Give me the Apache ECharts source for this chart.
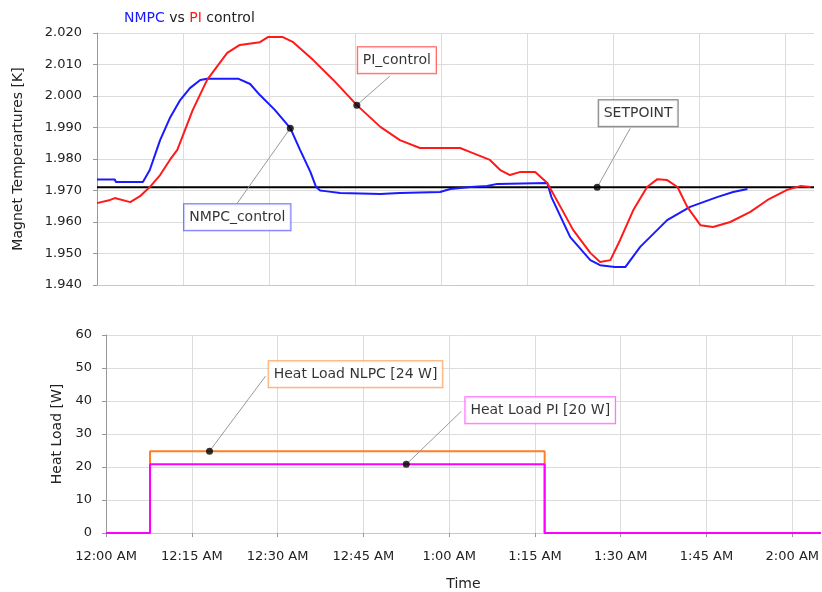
<!DOCTYPE html>
<html>
<head>
<meta charset="utf-8">
<script src="https://cdn.jsdelivr.net/npm/echarts@6/dist/echarts.min.js"></script>
<style>
  html, body { margin: 0; padding: 0; background: #fff; }
  #chart { width: 822px; height: 592px; }
</style>
</head>
<body>
<div id="chart"></div>
<script>
// x axis tick labels (every 15 minutes)
const timeLabels = ["12:00 AM", "12:15 AM", "12:30 AM", "12:45 AM", "1:00 AM", "1:15 AM", "1:30 AM", "1:45 AM", "2:00 AM"];

// top chart: magnet temperatures [K], time in minutes from 12:00 AM
const nmpcT = [0, 3.1, 3.3, 8.0, 9.2, 11.0, 12.7, 14.5, 16.2, 18.0, 19.2, 24.6, 26.7, 28.4, 31.0, 33.7, 35.4, 37.2, 38.2, 38.9, 39.8, 42.4, 49.4, 52.8, 59.8, 61.6, 65.1, 68.0, 69.8, 78.5, 79.2, 82.5, 86.0, 87.7, 90.3, 92.1, 94.7, 99.4, 103.4, 108.1, 110.9, 113.4];
const nmpcV = [1.9735, 1.9735, 1.9727, 1.9727, 1.9765, 1.9860, 1.9930, 1.9987, 2.0025, 2.0051, 2.0055, 2.0055, 2.0038, 2.0003, 1.9956, 1.9898, 1.9829, 1.9759, 1.9711, 1.9700, 1.9698, 1.9692, 1.9689, 1.9692, 1.9695, 1.9705, 1.9711, 1.9714, 1.9721, 1.9724, 1.9680, 1.9552, 1.9479, 1.9463, 1.9457, 1.9457, 1.9521, 1.9606, 1.9648, 1.9679, 1.9695, 1.9705];

const piT = [0, 2.3, 3.1, 5.8, 7.5, 9.2, 11.0, 12.7, 14.0, 16.7, 19.2, 22.7, 24.9, 28.4, 29.8, 32.4, 34.2, 37.7, 41.2, 45.3, 49.4, 52.8, 56.3, 63.3, 65.1, 68.5, 70.3, 72.0, 73.8, 76.4, 78.5, 80.8, 83.0, 86.0, 87.7, 89.5, 91.2, 93.5, 95.9, 97.7, 99.4, 101.2, 102.9, 105.2, 107.4, 110.4, 113.9, 116.9, 120.3, 122.6, 124.4];
const piV = [1.9660, 1.9670, 1.9676, 1.9663, 1.9682, 1.9711, 1.9749, 1.9797, 1.9829, 1.9956, 2.0051, 2.0137, 2.0162, 2.0171, 2.0187, 2.0187, 2.0171, 2.0114, 2.0051, 1.9971, 1.9902, 1.9860, 1.9835, 1.9835, 1.9822, 1.9797, 1.9765, 1.9749, 1.9759, 1.9759, 1.9724, 1.9648, 1.9575, 1.9502, 1.9473, 1.9479, 1.9543, 1.9638, 1.9711, 1.9736, 1.9733, 1.9711, 1.9648, 1.9590, 1.9584, 1.9600, 1.9632, 1.9670, 1.9702, 1.9714, 1.9711];

const setpointT = [0, 125];
const setpointV = [1.971, 1.971];

// bottom chart: heat load [W]
const heatT = [0, 7.7, 7.7, 76.7, 76.7, 125];
const heatNlpc = [0, 0, 24.8, 24.8, 0, 0];
const heatPi = [0, 0, 20.8, 20.8, 0, 0];

// callouts: text, anchor point on the curve
const noteText = ["PI_control", "NMPC_control", "SETPOINT", "Heat Load NLPC [24 W]", "Heat Load PI [20 W]"];
const noteT = [45.3, 33.7, 87.2, 18.1, 52.5];
const noteV = [1.9971, 1.9898, 1.971, 24.8, 20.8];

const font = "DejaVu Sans";
const gridColor = "#dcdcdc";

const zip = (a, b) => a.map((t, i) => [t, b[i]]);

const timeFmt = v => (v % 15 === 0 ? timeLabels[v / 15] || "" : "");

// box offset (dx, dy) from the anchor, and where the leader meets the box
const notes = [
    { axis: 0, border: "#ff3030", dx: 40, dy: -45, lx: 33, ly: -29 },
    { axis: 0, border: "#4a4aff", dx: -53, dy: 89, lx: -53, ly: 75 },
    { axis: 0, border: "#555", dx: 41, dy: -74, lx: 33, ly: -59 },
    { axis: 1, border: "#ff8c3a", dx: 146, dy: -77, lx: 56, ly: -75 },
    { axis: 1, border: "#ff40ff", dx: 134, dy: -54, lx: 55, ly: -53 }
];

function note(i) {
    const n = notes[i];
    return {
        type: "scatter",
        xAxisIndex: n.axis,
        yAxisIndex: n.axis,
        z: 6,
        silent: true,
        symbolSize: 7,
        itemStyle: { color: "#000" },
        data: [[noteT[i], noteV[i]]],
        label: {
            show: true,
            position: "inside",
            formatter: noteText[i],
            color: "#000",
            fontFamily: font,
            fontSize: 14,
            backgroundColor: "#fff",
            borderColor: n.border,
            borderWidth: 1,
            padding: [7, 5, 5, 5]
        },
        labelLayout: { dx: n.dx, dy: n.dy }
    };
}

function valueX(gridIndex, showLabels) {
    return {
        type: "value",
        gridIndex: gridIndex,
        min: 0,
        max: 125,
        interval: 15,
        name: showLabels ? "Time" : "",
        nameLocation: "middle",
        nameGap: 44,
        nameTextStyle: { fontFamily: font, fontSize: 14, color: "#222" },
        axisLine: { show: true, onZero: false, lineStyle: { color: "#c8c8c8" } },
        axisTick: { show: showLabels, length: 4, lineStyle: { color: "#999" } },
        axisLabel: {
            show: showLabels,
            formatter: timeFmt,
            fontFamily: font,
            fontSize: 13,
            color: "#222",
            margin: 17,
            showMaxLabel: false
        },
        splitLine: { show: true, showMaxLine: false, lineStyle: { color: gridColor } }
    };
}

const chart = echarts.init(document.getElementById("chart"));

chart.setOption({
    animation: false,
    title: {
        text: "{b|NMPC} vs {r|PI} control",
        left: 119,
        top: 6,
        textStyle: {
            fontFamily: font,
            fontSize: 14,
            fontWeight: "normal",
            color: "#222",
            rich: {
                b: { color: "#1a1aff", fontFamily: font, fontSize: 14 },
                r: { color: "#ff1a1a", fontFamily: font, fontSize: 14 }
            }
        }
    },
    grid: [
        { left: 97, right: 8, top: 33, height: 252 },
        { left: 106, right: 0, top: 335, height: 198 }
    ],
    xAxis: [valueX(0, false), valueX(1, true)],
    yAxis: [
        {
            type: "value",
            gridIndex: 0,
            min: 1.94,
            max: 2.02,
            interval: 0.01,
            name: "Magnet Temperartures [K]",
            nameLocation: "middle",
            nameGap: 72,
            nameTextStyle: { fontFamily: font, fontSize: 14, color: "#222" },
            axisLine: { show: true, lineStyle: { color: "#999" } },
            axisTick: { show: true, length: 4, lineStyle: { color: "#999" } },
            axisLabel: {
                formatter: v => v.toFixed(3),
                fontFamily: font,
                fontSize: 13,
                color: "#222",
                margin: 15
            },
            splitLine: { show: true, lineStyle: { color: gridColor } }
        },
        {
            type: "value",
            gridIndex: 1,
            min: 0,
            max: 60,
            interval: 10,
            name: "Heat Load [W]",
            nameLocation: "middle",
            nameGap: 42,
            nameTextStyle: { fontFamily: font, fontSize: 14, color: "#222" },
            axisLine: { show: true, lineStyle: { color: "#999" } },
            axisTick: { show: true, length: 4, lineStyle: { color: "#999" } },
            axisLabel: { fontFamily: font, fontSize: 13, color: "#222", margin: 14 },
            splitLine: { show: true, lineStyle: { color: gridColor } }
        }
    ],
    series: [
        {
            name: "SETPOINT",
            type: "line",
            xAxisIndex: 0,
            yAxisIndex: 0,
            showSymbol: false,
            data: zip(setpointT, setpointV),
            lineStyle: { color: "#000", width: 2 }
        },
        {
            name: "NMPC_control",
            type: "line",
            xAxisIndex: 0,
            yAxisIndex: 0,
            showSymbol: false,
            data: zip(nmpcT, nmpcV),
            lineStyle: { color: "#1a1aff", width: 2 }
        },
        {
            name: "PI_control",
            type: "line",
            xAxisIndex: 0,
            yAxisIndex: 0,
            showSymbol: false,
            data: zip(piT, piV),
            lineStyle: { color: "#ff1a1a", width: 2 }
        },
        {
            name: "Heat Load NLPC",
            type: "line",
            xAxisIndex: 1,
            yAxisIndex: 1,
            showSymbol: false,
            data: zip(heatT, heatNlpc),
            lineStyle: { color: "#ff7f27", width: 2 }
        },
        {
            name: "Heat Load PI",
            type: "line",
            xAxisIndex: 1,
            yAxisIndex: 1,
            showSymbol: false,
            data: zip(heatT, heatPi),
            lineStyle: { color: "#ff00ff", width: 2 }
        },
        note(0), note(1), note(2), note(3), note(4)
    ]
});

// leader lines from each anchor point to its box
const leaders = notes.map((n, i) => {
    const p = chart.convertToPixel({ xAxisIndex: n.axis, yAxisIndex: n.axis }, [noteT[i], noteV[i]]);
    return {
        type: "line",
        z: 4,
        silent: true,
        shape: { x1: p[0], y1: p[1], x2: p[0] + n.lx, y2: p[1] + n.ly },
        style: { stroke: "#999", lineWidth: 1 }
    };
});
chart.setOption({ graphic: leaders });
</script>
</body>
</html>
